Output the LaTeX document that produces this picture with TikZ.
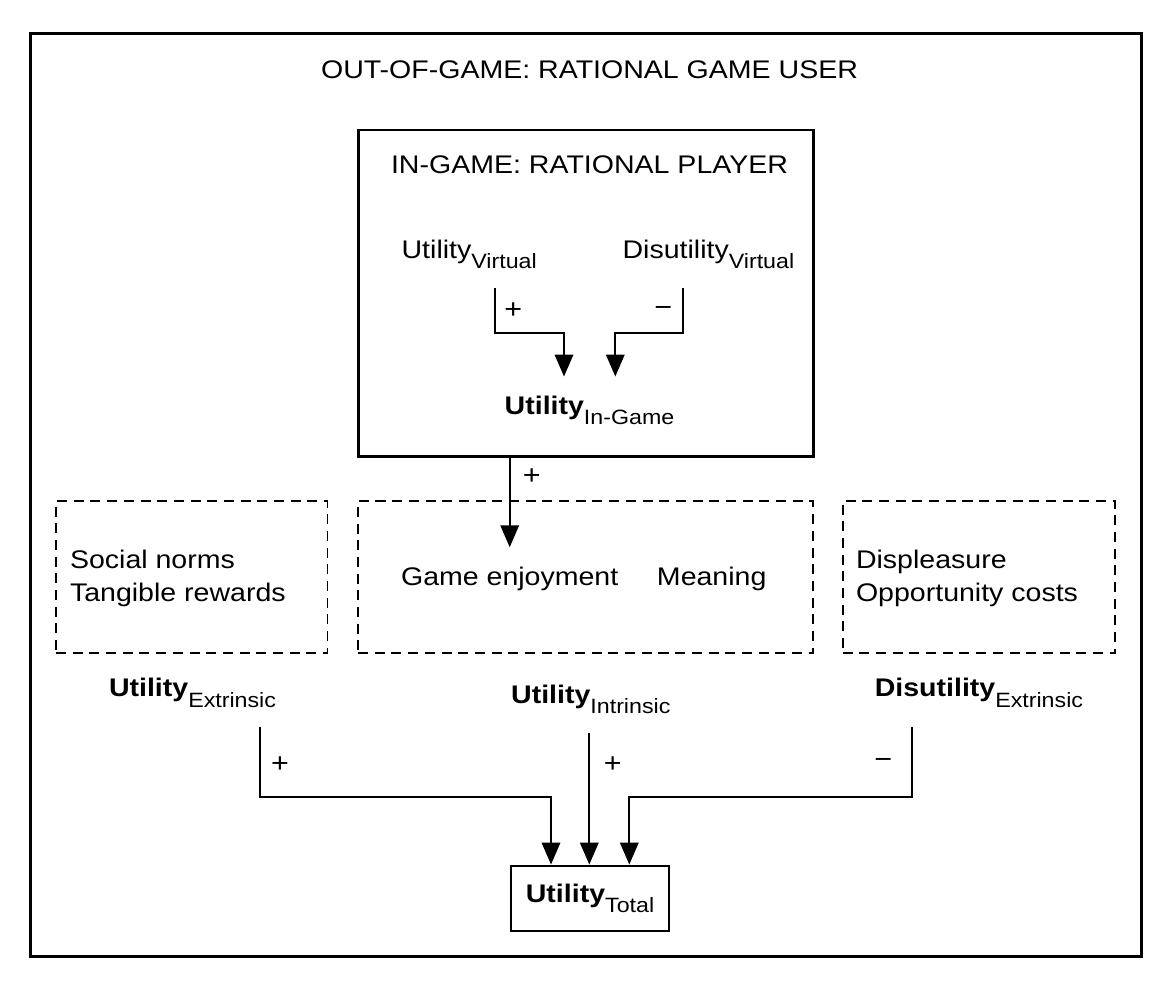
\documentclass[tikz,border=0pt]{standalone}
\usepackage{fontspec}
\setmainfont{Liberation Sans}[FakeStretch=1.12]
\usetikzlibrary{arrows.meta, positioning}
\newcommand{\idx}[1]{\raisebox{-6pt}{\fontsize{11.8}{14}\selectfont\mdseries #1}}

\begin{document}
\begin{tikzpicture}[x=0.02cm, y=-0.02cm, >={Triangle[length=12.5pt, width=10.5pt]}, line width=1.15pt,
  font=\fontsize{14.5}{19}\selectfont,
  frame/.style={draw, line width=1.5pt, inner sep=0pt},
  dbox/.style={draw, line width=1.1pt, dash pattern=on 5.7pt off 3.8pt, inner sep=0pt},
  term/.style={anchor=base, inner sep=2pt, outer sep=9pt},
  txt/.style={anchor=base west, inner sep=0pt, align=left},
  sign/.style={inner sep=0pt, font=\fontsize{15.5}{19}\selectfont}]

\useasboundingbox (0,0) rectangle (1168,983);

% Boxes
\node[frame, minimum width=22.23cm, minimum height=18.47cm] (user) at (585.85,494.85) {};
\node[frame, minimum width=9.1cm, minimum height=6.53cm] (player) at (585.8,293.35) {};
\node[dbox, minimum width=5.43cm, minimum height=3.05cm] (extbox) at (191.75,577.2) {};
\node[dbox, minimum width=9.1cm, minimum height=3.05cm] (intbox) at (585.5,577.2) {};
\node[dbox, minimum width=5.45cm, minimum height=3.05cm] (disbox) at (978.85,577.2) {};
\node[draw, line width=1.3pt, minimum width=3.16cm, minimum height=1.3cm, inner sep=0pt] (total) at (590,898.2) {\textbf{Utility}\idx{Total}};

% Titles
\node[anchor=base] (usertitle) at (589.5,78.3) {OUT-OF-GAME: RATIONAL GAME USER};
\node[anchor=base] (playertitle) at (589.5,173.5) {IN-GAME: RATIONAL PLAYER};

% Terms
\node[term] (uvirt) at (469.2,258.3) {Utility\idx{Virtual}};
\node[term] (dvirt) at (708.4,258.3) {Disutility\idx{Virtual}};
\node[term] (uingame) at (589.5,414.3) {\textbf{Utility}\idx{In-Game}};
\node[term] (enjoy) at (509.7,585) {Game enjoyment};
\node[term] (meaning) at (711.7,585) {Meaning};
\node[txt] (extlist) at (69,601.7) {Social norms\\Tangible rewards};
\node[txt] (dislist) at (855,601.7) {Displeasure\\Opportunity costs};
\node[term] (uext) at (192.5,696.7) {\textbf{Utility}\idx{Extrinsic}};
\node[term] (uint) at (590.8,703.3) {\textbf{Utility}\idx{Intrinsic}};
\node[term] (dext) at (978.9,696.7) {\textbf{Disutility}\idx{Extrinsic}};

% Signs
\node[sign] (plusuv) at (513.3,311) {+};
\node[sign] (minusdv) at (663.3,311) {−};
\node[sign] (plusig) at (531.7,476.7) {+};
\node[sign] (plusext) at (280,765) {+};
\node[sign] (plusint) at (612.7,765) {+};
\node[sign] (minusdext) at (883.3,763.3) {−};

% Arrows
\draw[->] (uvirt.south -| 495,0) -- ++(0,44.4) -| (uingame.north -| 564,0);
\draw[->] (dvirt.south -| 683.3,0) -- ++(0,44.4) -| (uingame.north -| 615.3,0);
\draw[->] (player.south -| enjoy) -- (enjoy.north);
\draw[->] (uext.south -| 260,0) -- ++(0,70.5) -| (total.north -| 551,0);
\draw[->] (uint.south -| 589.3,0) -- (total.north -| 589.3,0);
\draw[->] (dext.south -| 911.7,0) -- ++(0,70.5) -| (total.north -| 629.3,0);

\end{tikzpicture}
\end{document}
